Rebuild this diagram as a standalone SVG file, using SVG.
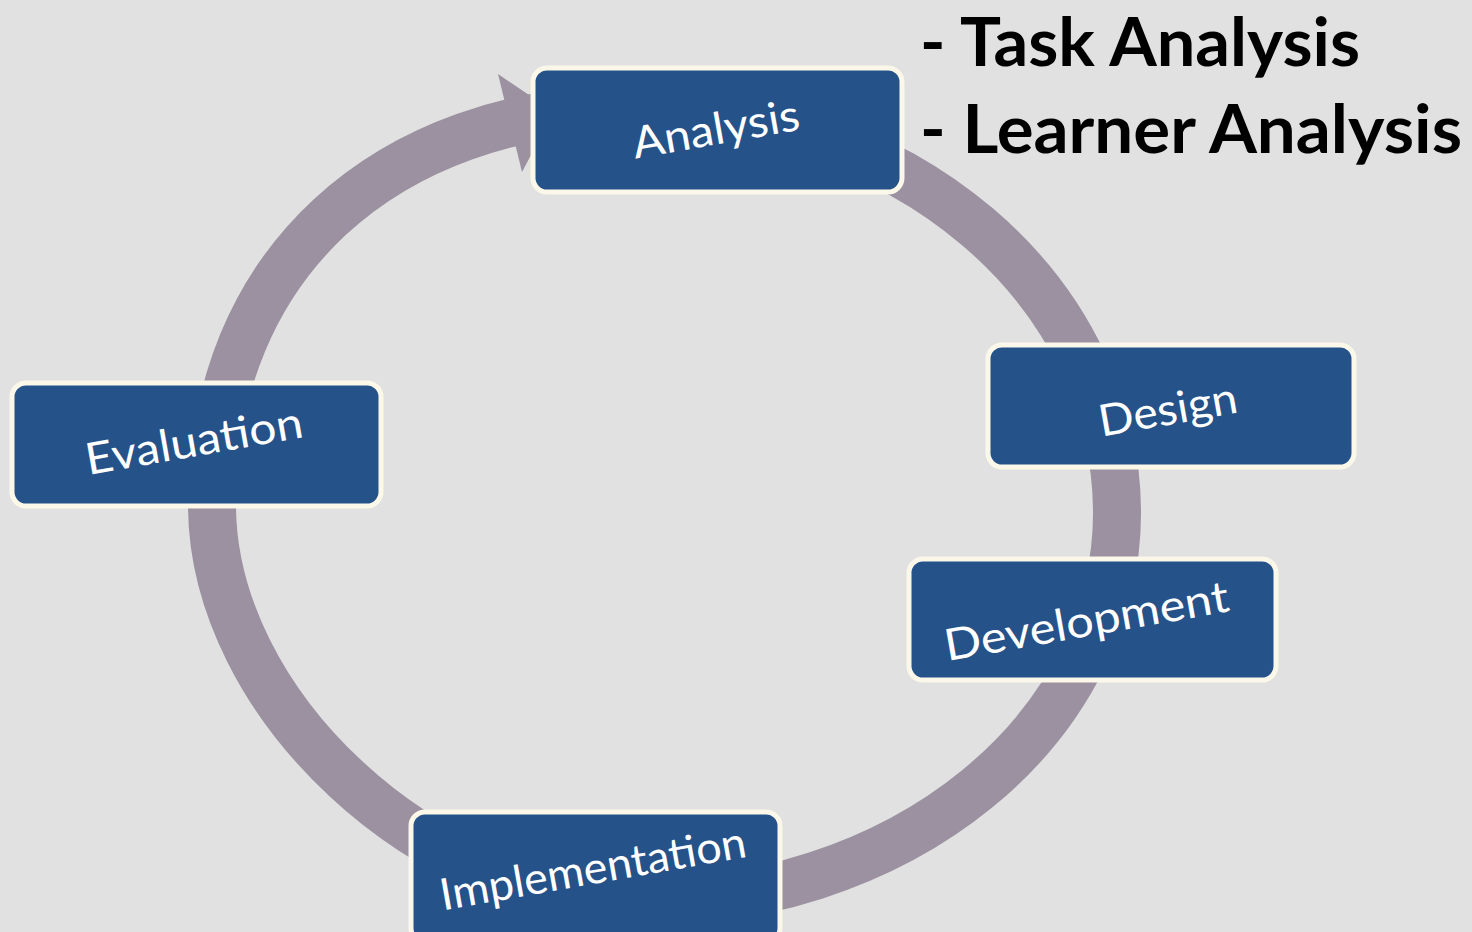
<svg xmlns="http://www.w3.org/2000/svg" width="1472" height="932" viewBox="0 0 1472 932">
<style>
.box{fill:#26528a;stroke:#fbf8ea;stroke-width:5}
.lbl{fill:#ffffff;font-family:Lato,"Open Sans",sans-serif;font-size:44px;text-anchor:middle}
.note{fill:#000000;font-family:Lato,"Open Sans",sans-serif;font-size:66px;font-weight:bold}
.ring{fill:none;stroke:#9b91a0;stroke-width:48}
</style>
<rect x="0" y="0" width="1472" height="932" fill="#e1e1e1"/>
<g id="connectors">
<path class="ring" d="M640,108 A477,405 0 0 1 1117,513 A477,390 0 0 1 640,903 C426,903 212,704 212,505 C212,267 383,108 640,108 Z"/>
<polygon points="498,74 554,112 522,172" fill="#9b91a0"/>
</g>
<g id="analysis">
<rect class="box" x="533" y="68" width="369" height="124" rx="14"/>
<text class="lbl" x="718.5" y="144" transform="rotate(-10 718.5 144)" textLength="169" lengthAdjust="spacingAndGlyphs">Analysis</text>
</g>
<g id="design">
<rect class="box" x="988" y="345" width="366" height="122" rx="14"/>
<text class="lbl" x="1170.5" y="424.5" transform="rotate(-10 1170.5 424.5)" textLength="140" lengthAdjust="spacingAndGlyphs">Design</text>
</g>
<g id="development">
<rect class="box" x="909" y="559" width="367" height="121" rx="14"/>
<text class="lbl" x="1089" y="636" transform="rotate(-10 1089 636)" textLength="288" lengthAdjust="spacingAndGlyphs">Development</text>
</g>
<g id="implementation">
<rect class="box" x="411" y="812" width="369" height="130" rx="14"/>
<text class="lbl" x="595.5" y="883.5" transform="rotate(-10 595.5 883.5)" textLength="310" lengthAdjust="spacingAndGlyphs">Implementation</text>
</g>
<g id="evaluation">
<rect class="box" x="12" y="383" width="369" height="123" rx="14"/>
<text class="lbl" x="196.5" y="456" transform="rotate(-10 196.5 456)" textLength="220" lengthAdjust="spacingAndGlyphs">Evaluation</text>
</g>
<g id="notes">
<text class="note" x="920" y="66" textLength="440" lengthAdjust="spacingAndGlyphs">- Task Analysis</text>
<text class="note" x="920" y="153" textLength="542" lengthAdjust="spacingAndGlyphs">- Learner Analysis</text>
</g>
</svg>
